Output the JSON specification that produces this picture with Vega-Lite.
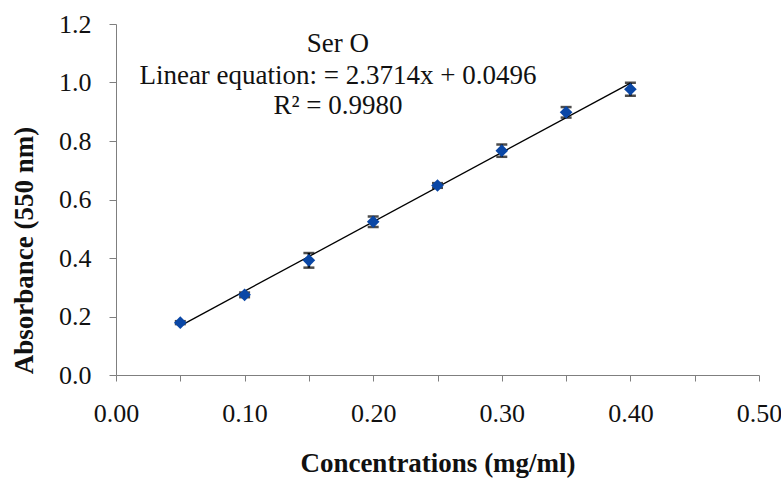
{
  "$schema": "https://vega.github.io/schema/vega-lite/v6.json",
  "width": 643,
  "height": 351,
  "autosize": {"type": "none"},
  "padding": {"left": 116, "top": 24, "right": 22, "bottom": 105},
  "background": "white",
  "config": {
    "view": {"stroke": null},
    "font": "Liberation Serif, Times New Roman, serif",
    "text": {"font": "Liberation Serif, Times New Roman, serif"},
    "axis": {"grid": false, "domainColor": "#7f7f7f", "tickColor": "#7f7f7f", "labelFont": "Liberation Serif, Times New Roman, serif", "titleFont": "Liberation Serif, Times New Roman, serif", "labelColor": "#111", "titleColor": "#111", "labelFontSize": 26, "titleFontSize": 27, "titleFontWeight": "bold", "labelFlush": false}
  },
  "datasets": {
    "points": [
      {"conc": 0.05, "abs": 0.179, "sd": 0.005},
      {"conc": 0.10, "abs": 0.274, "sd": 0.008},
      {"conc": 0.15, "abs": 0.392, "sd": 0.025},
      {"conc": 0.20, "abs": 0.524, "sd": 0.018},
      {"conc": 0.25, "abs": 0.648, "sd": 0.008},
      {"conc": 0.30, "abs": 0.767, "sd": 0.021},
      {"conc": 0.35, "abs": 0.898, "sd": 0.018},
      {"conc": 0.40, "abs": 0.977, "sd": 0.022}
    ],
    "fit": [
      {"conc": 0.05, "abs": 0.168},
      {"conc": 0.40, "abs": 0.998}
    ],
    "note1": [{"label": "Ser O"}],
    "note2": [{"label": "Linear equation:  = 2.3714x + 0.0496"}],
    "note3": [{"label": "R² = 0.9980"}]
  },
  "layer": [
    {
      "data": {"name": "fit"},
      "mark": {"type": "line", "color": "black", "strokeWidth": 1.3},
      "encoding": {
        "x": {"field": "conc", "type": "quantitative", "scale": {"domain": [0, 0.5], "nice": false},
          "axis": {"values": [0, 0.05, 0.1, 0.15, 0.2, 0.25, 0.3, 0.35, 0.4, 0.45, 0.5],
            "labelExpr": "round(datum.value*100) % 10 == 0 ? format(datum.value, '.2f') : ''",
            "tickSize": 6, "labelPadding": 19,
            "title": "Concentrations (mg/ml)", "titlePadding": 24}},
        "y": {"field": "abs", "type": "quantitative", "scale": {"domain": [0, 1.2], "nice": false},
          "axis": {"values": [0, 0.1, 0.2, 0.3, 0.4, 0.5, 0.6, 0.7, 0.8, 0.9, 1.0, 1.1, 1.2],
            "labelExpr": "round(datum.value*10) % 2 == 0 ? format(datum.value, '.1f') : ''",
            "tickSize": 7, "labelPadding": 18,
            "title": "Absorbance (550 nm)", "titlePadding": 20, "titleY": 226}}
      }
    },
    {
      "data": {"name": "points"},
      "mark": {"type": "errorbar", "color": "black", "thickness": 2.5, "ticks": {"size": 11, "thickness": 2.5, "color": "black"}},
      "encoding": {
        "x": {"field": "conc", "type": "quantitative", "title": "Concentrations (mg/ml)"},
        "y": {"field": "abs", "type": "quantitative", "title": "Absorbance (550 nm)"},
        "yError": {"field": "sd"}
      }
    },
    {
      "data": {"name": "points"},
      "mark": {"type": "point", "shape": "diamond", "filled": true, "color": "#0a47a6", "opacity": 1, "size": 160},
      "encoding": {
        "x": {"field": "conc", "type": "quantitative"},
        "y": {"field": "abs", "type": "quantitative"}
      }
    },
    {
      "data": {"name": "note1"},
      "mark": {"type": "text", "align": "center", "baseline": "middle", "fontSize": 27, "color": "#111"},
      "encoding": {
        "x": {"datum": 0.1726},
        "y": {"datum": 1.132},
        "text": {"field": "label"}
      }
    },
    {
      "data": {"name": "note2"},
      "mark": {"type": "text", "align": "center", "baseline": "middle", "fontSize": 27, "color": "#111"},
      "encoding": {
        "x": {"datum": 0.1726},
        "y": {"datum": 1.023},
        "text": {"field": "label"}
      }
    },
    {
      "data": {"name": "note3"},
      "mark": {"type": "text", "align": "center", "baseline": "middle", "fontSize": 27, "color": "#111"},
      "encoding": {
        "x": {"datum": 0.1726},
        "y": {"datum": 0.92},
        "text": {"field": "label"}
      }
    }
  ]
}
